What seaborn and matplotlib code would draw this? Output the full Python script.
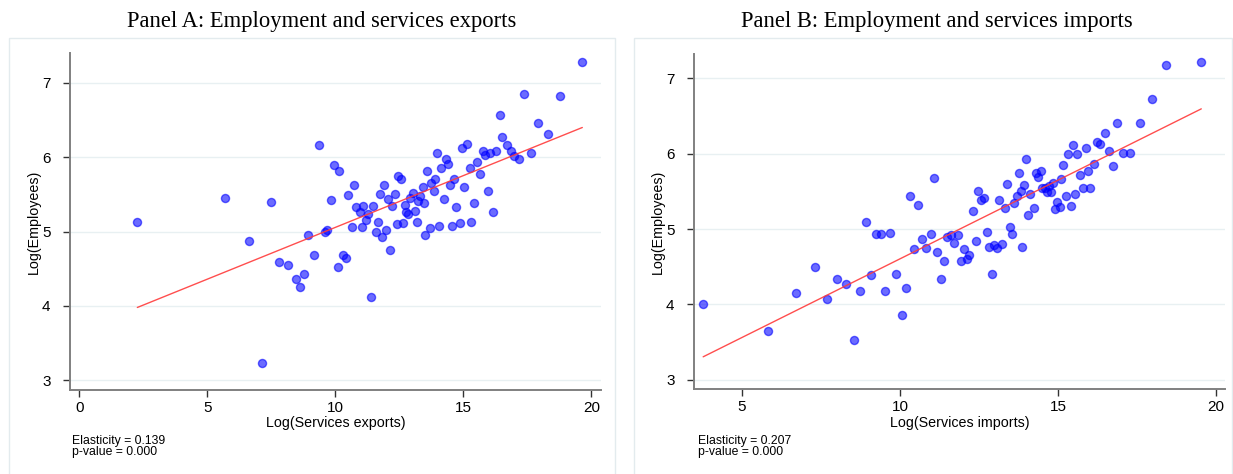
import numpy as np
import seaborn as sns
import matplotlib.pyplot as plt
from matplotlib.patches import Rectangle

# Panel A: log services exports vs log employees
exports_x = [2.27, 5.69, 7.49, 9.36, 9.95, 10.16, 9.84, 8.95, 9.60, 9.67,
             6.64, 7.80, 8.16, 8.79, 8.48, 8.62, 9.18, 7.12, 10.09, 10.29,
             10.41, 10.64, 11.03, 11.20, 11.68, 11.58, 11.97, 11.84, 12.12, 12.40,
             12.66, 13.18, 13.69, 13.49, 14.06, 14.56, 14.86, 15.31, 11.38, 19.65,
             17.36, 18.78, 16.42, 17.93, 18.30, 16.52, 16.71, 16.85, 16.99, 17.19,
             17.63, 15.76, 15.86, 16.04, 16.28, 14.95, 15.13, 13.96, 14.31, 14.40,
             14.13, 15.25, 15.52, 15.64, 13.59, 13.91, 13.75, 14.64, 14.47, 15.04,
             13.41, 13.84, 15.95, 12.46, 12.57, 11.90, 10.72, 10.51, 11.76, 12.06,
             12.32, 13.04, 13.32, 12.93, 13.24, 13.45, 14.25, 15.41, 14.73, 16.17,
             12.23, 12.72, 10.82, 11.09, 11.46, 10.95, 11.29, 12.77, 12.85, 13.11]
exports_y = [5.13, 5.45, 5.40, 6.17, 5.89, 5.82, 5.42, 4.95, 5.00, 5.02,
             4.87, 4.59, 4.55, 4.43, 4.36, 4.25, 4.69, 3.23, 4.53, 4.69,
             4.65, 5.06, 5.06, 5.15, 5.13, 5.00, 5.02, 4.93, 4.75, 5.10,
             5.11, 5.13, 5.05, 4.96, 5.07, 5.07, 5.11, 5.13, 4.12, 7.28,
             6.85, 6.82, 6.57, 6.46, 6.31, 6.27, 6.17, 6.08, 6.01, 5.98,
             6.06, 6.08, 6.03, 6.05, 6.08, 6.12, 6.18, 6.05, 5.98, 5.91,
             5.85, 5.86, 5.94, 5.77, 5.81, 5.70, 5.65, 5.70, 5.62, 5.60,
             5.60, 5.54, 5.54, 5.75, 5.70, 5.63, 5.63, 5.49, 5.50, 5.44,
             5.51, 5.52, 5.48, 5.45, 5.41, 5.38, 5.44, 5.38, 5.33, 5.26,
             5.34, 5.36, 5.33, 5.35, 5.35, 5.26, 5.24, 5.26, 5.23, 5.28]

# Panel B: log services imports vs log employees
imports_x = [3.78, 5.82, 6.73, 7.32, 7.71, 8.01, 8.30, 8.54, 8.74, 8.92,
             9.09, 9.23, 9.39, 9.70, 9.54, 9.87, 10.06, 10.19, 10.45, 10.70,
             10.82, 10.97, 11.17, 11.39, 11.30, 11.50, 11.62, 11.72, 11.84, 12.03,
             12.20, 12.11, 11.94, 12.41, 12.75, 12.83, 12.99, 13.07, 13.24, 12.91,
             13.47, 13.54, 13.87, 10.32, 10.58, 11.08, 19.53, 18.41, 17.96, 16.88,
             17.58, 16.47, 16.23, 16.34, 15.48, 15.87, 15.33, 15.61, 16.60, 17.04,
             17.28, 16.74, 13.99, 15.17, 16.13, 15.95, 15.70, 13.77, 14.29, 14.45,
             14.37, 15.10, 14.84, 14.72, 14.60, 14.50, 14.65, 14.79, 13.92, 13.82,
             13.69, 14.12, 13.39, 12.48, 12.58, 12.66, 13.14, 13.62, 13.31, 12.31,
             14.23, 14.05, 15.24, 15.54, 15.79, 16.02, 14.98, 14.91, 15.05, 15.41]
imports_y = [4.01, 3.65, 4.15, 4.50, 4.07, 4.34, 4.27, 3.53, 4.18, 5.10,
             4.39, 4.94, 4.94, 4.95, 4.18, 4.41, 3.86, 4.22, 4.73, 4.87,
             4.75, 4.93, 4.69, 4.57, 4.34, 4.89, 4.92, 4.82, 4.92, 4.73,
             4.66, 4.60, 4.57, 4.84, 4.96, 4.76, 4.79, 4.75, 4.80, 4.40,
             5.03, 4.93, 4.76, 5.44, 5.32, 5.68, 7.22, 7.18, 6.72, 6.40,
             6.40, 6.27, 6.16, 6.13, 6.12, 6.08, 5.99, 5.99, 6.03, 6.01,
             6.01, 5.84, 5.93, 5.85, 5.86, 5.77, 5.72, 5.74, 5.74, 5.77,
             5.69, 5.66, 5.61, 5.57, 5.54, 5.54, 5.49, 5.49, 5.59, 5.51,
             5.44, 5.47, 5.60, 5.51, 5.39, 5.41, 5.38, 5.35, 5.28, 5.24,
             5.28, 5.19, 5.44, 5.47, 5.55, 5.55, 5.36, 5.27, 5.29, 5.31]

titles = ["Panel A: Employment and services exports",
          "Panel B: Employment and services imports"]
xlabels = ["Log(Services exports)", "Log(Services imports)"]
notes = ["Elasticity = 0.139\np-value = 0.000",
         "Elasticity = 0.207\np-value = 0.000"]
xticks_list = [[0, 5, 10, 15, 20], [5, 10, 15, 20]]
yticks = [3, 4, 5, 6, 7]

sns.set_style("white")
plt.rcParams['font.family'] = ['Liberation Sans', 'DejaVu Sans']
plt.rcParams['text.color'] = 'black'
plt.rcParams['axes.labelcolor'] = 'black'

W, H = 1233, 474
fig = plt.figure(figsize=(W / 100, H / 100), dpi=100)

# panel frames (px)
for x0, x1 in [(9, 615), (634, 1232)]:
    fig.patches.append(Rectangle((x0 / W, -0.02), (x1 - x0) / W, 1.02 - 38 / H,
                                 transform=fig.transFigure, fill=False,
                                 edgecolor='#e3ebee', lw=1))

axes_px = [(70, 601, 53, 390), (694, 1225, 54, 389)]
xlims = [(-0.36, 20.38), (3.49, 20.28)]
ylims = [(2.87, 7.40), (2.88, 7.32)]
data = [(exports_x, exports_y), (imports_x, imports_y)]
title_x = [322, 937]
note_x = [72, 698]

for i in range(2):
    l, r, t, b = axes_px[i]
    ax = fig.add_axes([l / W, 1 - b / H, (r - l) / W, (b - t) / H])
    xs, ys = data[i]
    sns.scatterplot(x=xs, y=ys, ax=ax, s=34, color='#0000ff', alpha=0.58,
                    edgecolor='#0000ff', linewidth=1, zorder=3)
    sns.regplot(x=np.array(xs), y=np.array(ys), ax=ax, scatter=False, ci=None,
                line_kws=dict(color='#ff3b3b', lw=1, alpha=0.9, zorder=4))
    ax.set_xlim(*xlims[i])
    ax.set_ylim(*ylims[i])
    ax.set_xticks(xticks_list[i])
    ax.set_yticks(yticks)
    ax.yaxis.grid(True, color='#e8f0f2', lw=1)
    ax.set_axisbelow(True)
    for s in ['top', 'right']:
        ax.spines[s].set_visible(False)
    for s in ['left', 'bottom']:
        ax.spines[s].set_color('#808080')
        ax.spines[s].set_linewidth(1.4)
    ax.tick_params(axis='both', direction='out', length=5, width=1,
                   color='#333333', labelcolor='black', labelsize=11,
                   bottom=True, left=True)
    ax.tick_params(axis='x', pad=3)
    ax.tick_params(axis='y', pad=9)
    ax.set_xlabel(xlabels[i], fontsize=10.3, labelpad=1)
    ax.set_ylabel("Log(Employees)", fontsize=10.3, labelpad=1)
    fig.text(title_x[i] / W, 1 - 22 / H, titles[i], ha='center', va='center',
             fontsize=16.3, family='Liberation Serif')
    fig.text(note_x[i] / W, 1 - 435 / H, notes[i], ha='left', va='top',
             fontsize=8.8, linespacing=0.92)

fig.savefig("out.png", dpi=100)
